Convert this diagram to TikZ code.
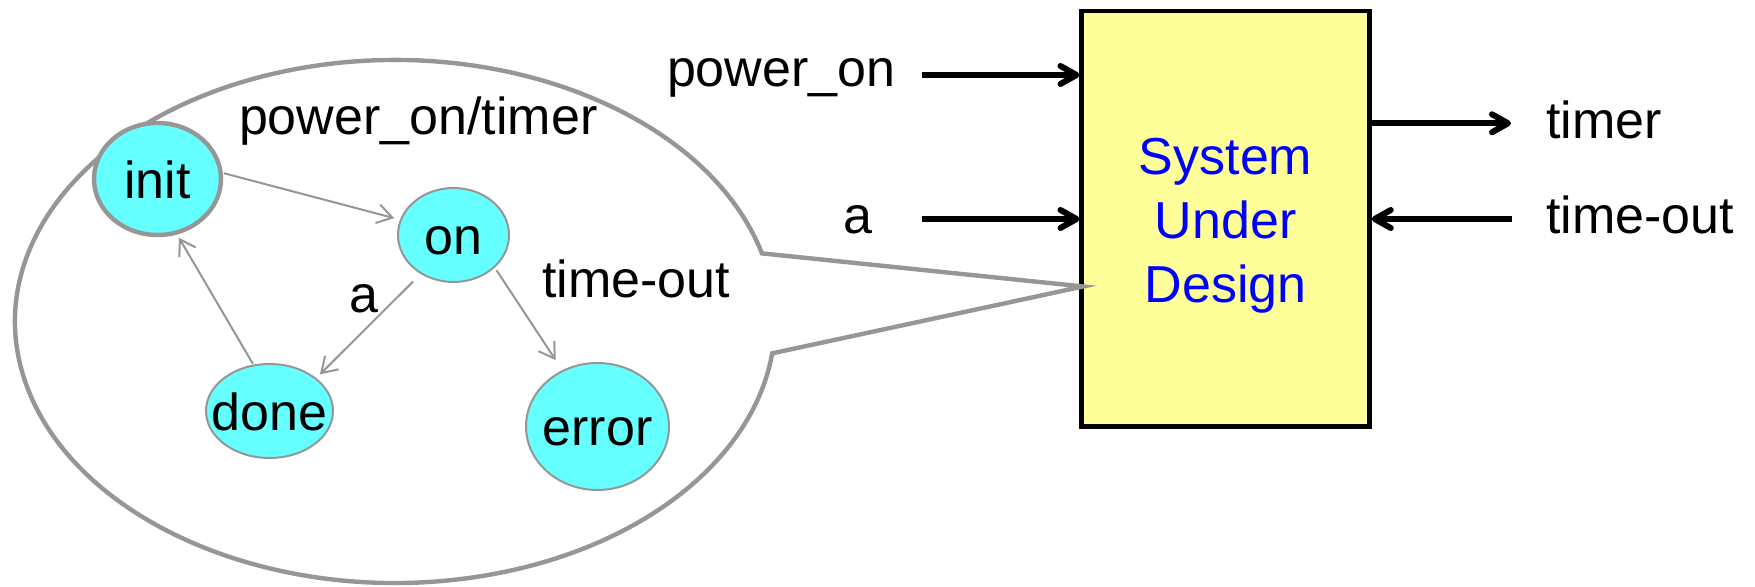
\documentclass[tikz,border=0pt]{standalone}
\usepackage{fontspec}
\setmainfont{Liberation Sans}
\usetikzlibrary{arrows.meta,shapes.geometric,calc}
\definecolor{balloongray}{RGB}{150,150,150}
\definecolor{statecyan}{RGB}{102,255,255}
\definecolor{sudyellow}{RGB}{255,255,153}
\definecolor{sudblue}{RGB}{0,0,255}
\begin{document}
\begin{tikzpicture}[x=0.5pt,y=0.5pt,
  txt/.style={font=\fontsize{26pt}{32pt}\selectfont, inner sep=0pt, outer sep=0pt},
  lbl/.style={txt, anchor=base west},
  state/.style={txt, ellipse, draw=balloongray, fill=statecyan, line width=1pt,
    inner sep=-40pt, outer sep=0pt, text height=19.5pt, text depth=0pt},
  balloon/.style={draw=balloongray, fill=white, line width=2.2pt, line join=miter},
  trans/.style={draw=balloongray, line width=1pt, -{Straight Barb[length=7.5pt,width=9.5pt]}},
  sig/.style={draw=black, line width=3pt, -{Straight Barb[length=8pt,width=9pt,round]}},
  sudbox/.style={rectangle, draw=black, fill=sudyellow, line width=2.25pt, inner sep=0pt}
]
\path[use as bounding box] (0,0) rectangle (1755,587);

% the block under design
\node[sudbox, minimum width=143.9pt, minimum height=207.75pt] (sud) at (1225.6,368.2) {};
\node[txt, text=sudblue, align=center] (sudlbl) at (1225.6,361.5) {System\\Under\\Design};

% speech balloon holding the state machine
\coordinate (tip) at (1083,300.5);
\draw[balloon] (395,265.5) ++(15.1:380 and 261.5) coordinate (tailtop)
  arc[start angle=15.1, end angle=353, x radius=380, y radius=261.5] coordinate (tailbot)
  -- (tip) -- cycle;

% states
\node[state, line width=2.2pt, minimum width=63.5pt, minimum height=56pt] (init) at (157.5,408) {init};
\node[state, minimum width=55.5pt, minimum height=47pt] (on) at (453.5,352) {on};
\node[state, minimum width=63.5pt, minimum height=47pt] (done) at (269.5,176) {done};
\node[state, minimum width=71.5pt, minimum height=63.5pt] (error) at (597.5,160.5) {error};

% transitions
\draw[trans, shorten <=1.75pt, shorten >=3.5pt] (init.6) -- (on.164);
\draw[trans, shorten <=5.8pt, shorten >=3pt] (on.230) -- (done.35);
\draw[trans, shorten <=2pt, shorten >=6.5pt] (on.-38.5) -- (error.122);
\draw[trans, shorten <=1pt, shorten >=3pt] (done.109.5) -- (init.-71.3);

% transition labels
\node[lbl] (tpower) at (239,452) {power\_on/timer};
\node[lbl] (ta) at (349,274) {a};
\node[lbl] (ttimeout) at (542,289) {time-out};

% interface signals
\coordinate (pwrsrc) at (922,512);
\coordinate (asrc) at (922,368);
\coordinate (timerdst) at (1511,463.7);
\coordinate (tosrc) at (1512,368);
\draw[sig] (pwrsrc) -- (pwrsrc -| sud.west);
\draw[sig] (asrc) -- (asrc -| sud.west);
\draw[sig] (timerdst -| sud.east) -- (timerdst);
\draw[sig] (tosrc) -- (tosrc -| sud.east);

\node[lbl] (lpower) at (667,500) {power\_on};
\node[lbl] (la) at (843,353) {a};
\node[lbl] (ltimer) at (1546,448) {timer};
\node[lbl] (ltimeout) at (1546,353) {time-out};
\end{tikzpicture}
\end{document}
